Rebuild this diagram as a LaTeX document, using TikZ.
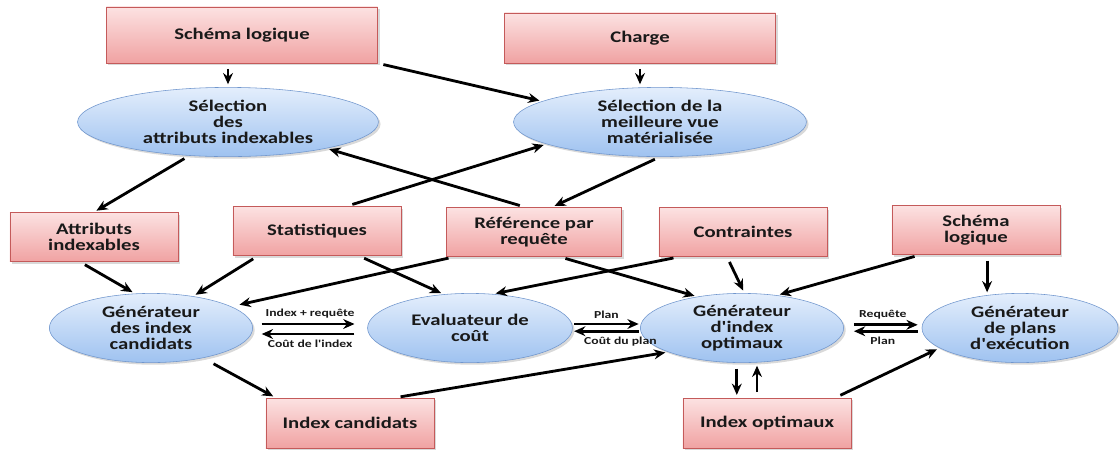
\documentclass[tikz,border=0pt]{standalone}
\usepackage{fontspec}
\usepackage{tikz}
\usetikzlibrary{shapes,arrows.meta,positioning,shadows}
\newfontfamily\diafont{Carlito}[FakeStretch=1.28]
\definecolor{boxtop}{RGB}{252,226,226}
\definecolor{boxbot}{RGB}{240,162,162}
\definecolor{boxline}{RGB}{196,90,90}
\definecolor{elltop}{RGB}{228,238,252}
\definecolor{ellbot}{RGB}{158,194,240}
\definecolor{ellline}{RGB}{112,150,205}
\definecolor{ink}{RGB}{25,25,25}

\begin{document}
\begin{tikzpicture}[
    x=0.025cm, y=-0.025cm,
    box/.style={rectangle, draw=boxline, top color=boxtop, bottom color=boxbot, minimum width=4.2cm, minimum height=1.23cm, align=center, text=ink, font=\diafont\bfseries\fontsize{11.5}{11.6}\selectfont, drop shadow={shadow xshift=1.5pt, shadow yshift=-1.5pt, opacity=0.3}},
    proc/.style={ellipse, draw=ellline, top color=elltop, bottom color=ellbot, inner sep=0pt, minimum height=1.73cm, align=center, text=ink, font=\diafont\bfseries\fontsize{11.5}{11.6}\selectfont, drop shadow={shadow xshift=1.5pt, shadow yshift=-1.5pt, opacity=0.3}},
    flow/.style={-{Stealth[length=8pt,width=7pt]}, line width=2pt, shorten >=2pt, shorten <=4pt},
    lbl/.style={font=\diafont\bfseries\fontsize{7.6}{8}\selectfont, text=ink, inner sep=1pt},
]
\useasboundingbox (0,0) rectangle (1120,450);

% top row
\node[box, minimum width=6.78cm, minimum height=1.4cm] (schema) at (242,35) {Schéma logique};
\node[box, minimum width=6.78cm, minimum height=1.25cm] (charge) at (640,38) {Charge};
\node[proc, minimum width=7.52cm] (selattr) at (228,122) {Sélection\\des\\attributs indexables};
\node[proc, minimum width=7.32cm] (selvue) at (660,122) {Sélection de la\\meilleure vue\\matérialisée};

% inputs
\node[box] (attr) at (94,237) {Attributs\\indexables};
\node[box] (stats) at (317,231) {Statistiques};
\node[box, minimum width=4.38cm] (ref) at (534,232) {Référence par\\requête};
\node[box] (contr) at (743,232) {Contraintes};
\node[box] (schema2) at (976,230) {Schéma\\logique};

% processes
\node[proc, minimum width=5.08cm] (gencand) at (151,328) {Générateur\\des index\\candidats};
\node[proc, minimum width=5.12cm] (eval) at (470,328) {Evaluateur de\\coût};
\node[proc, minimum width=5.08cm] (genopt) at (742,328) {Générateur\\d'index\\optimaux};
\node[proc, minimum width=4.9cm] (genplan) at (1020,328) {Générateur\\de plans\\d'exécution};

% outputs
\node[box, minimum height=1.25cm] (icand) at (350,423) {Index candidats};
\node[box, minimum height=1.25cm] (iopt) at (767,423) {Index optimaux};

\draw[flow] (schema.south -| selattr.north) -- (selattr.north);
\draw[flow] (schema.south east) -- (selvue.170);
\draw[flow] (charge.south) -- (charge.south |- selvue.north);
\draw[flow] (selattr.221) -- (attr.north);
\draw[flow] ([xshift=-0.22cm]ref.north) -- (selattr.-15);
\draw[flow] ([xshift=0.75cm]stats.north) -- (selvue.191);
\draw[flow] (selvue.south) -- ([xshift=0.45cm]ref.north);

\draw[flow] ([xshift=-0.35cm]attr.south) -- (gencand.115);
\draw[flow] ([xshift=-1.475cm]stats.south) -- (gencand.37);
\draw[flow, shorten >=6pt] ([xshift=-2cm]ref.south) -- (gencand.15);
\draw[flow] ([xshift=1.05cm]stats.south) -- (eval.128);
\draw[flow] ([xshift=-1.6cm]contr.south) -- (eval.56);
\draw[flow] ([xshift=0.65cm]ref.south) -- (genopt.145);
\draw[flow] ([xshift=-0.4cm]contr.south) -- (genopt.86);
\draw[flow] ([xshift=-1.4cm]schema2.south) -- (genopt.43);
\draw[flow] (schema2.south -| genplan.135) -- (genplan.135);

\draw[flow, shorten <=0.22cm, shorten >=0.32cm] ([yshift=0.1cm]gencand.east) -- node[lbl, above=2pt] (lidx) {Index + requête} ([yshift=0.1cm]eval.west);
\draw[flow, shorten <=0.32cm, shorten >=0.22cm] ([yshift=-0.15cm]eval.west) -- node[lbl, below=2pt] (lcout) {Coût de l'index} ([yshift=-0.15cm]gencand.east);
\draw[flow, shorten <=1pt, shorten >=1pt] ([yshift=0.1cm]eval.east) -- node[lbl, above=2pt] (lplan) {Plan} ([yshift=0.1cm]genopt.west);
\draw[flow, shorten <=1pt, shorten >=1pt] ([yshift=-0.08cm]genopt.west) -- node[lbl, below=2pt, xshift=0.35cm] (lcplan) {Coût du plan} ([yshift=-0.08cm]eval.east);
\draw[flow, shorten <=0.25cm, shorten >=0.1cm] ([yshift=0.08cm]genopt.east) -- node[lbl, above=2pt] (lreq) {Requête} ([yshift=0.08cm]genplan.west);
\draw[flow, shorten <=0.1cm, shorten >=0.25cm] ([yshift=-0.08cm]genplan.west) -- node[lbl, below=2pt] (lplanb) {Plan} ([yshift=-0.08cm]genopt.east);

\draw[flow, shorten <=0.3cm] (gencand.-30) -- ([xshift=0.25cm]icand.north west);
\draw[flow] ([xshift=1.125cm]icand.north) -- (genopt.198);
\draw[flow] ([xshift=-0.13cm]genopt.south) -- ([xshift=-0.13cm]genopt.south |- iopt.north);
\draw[flow] ([xshift=0.375cm]genopt.south |- iopt.north) -- ([xshift=0.375cm]genopt.south);
\draw[flow] ([xshift=-0.4cm]iopt.north east) -- (genplan.194);
\end{tikzpicture}
\end{document}
